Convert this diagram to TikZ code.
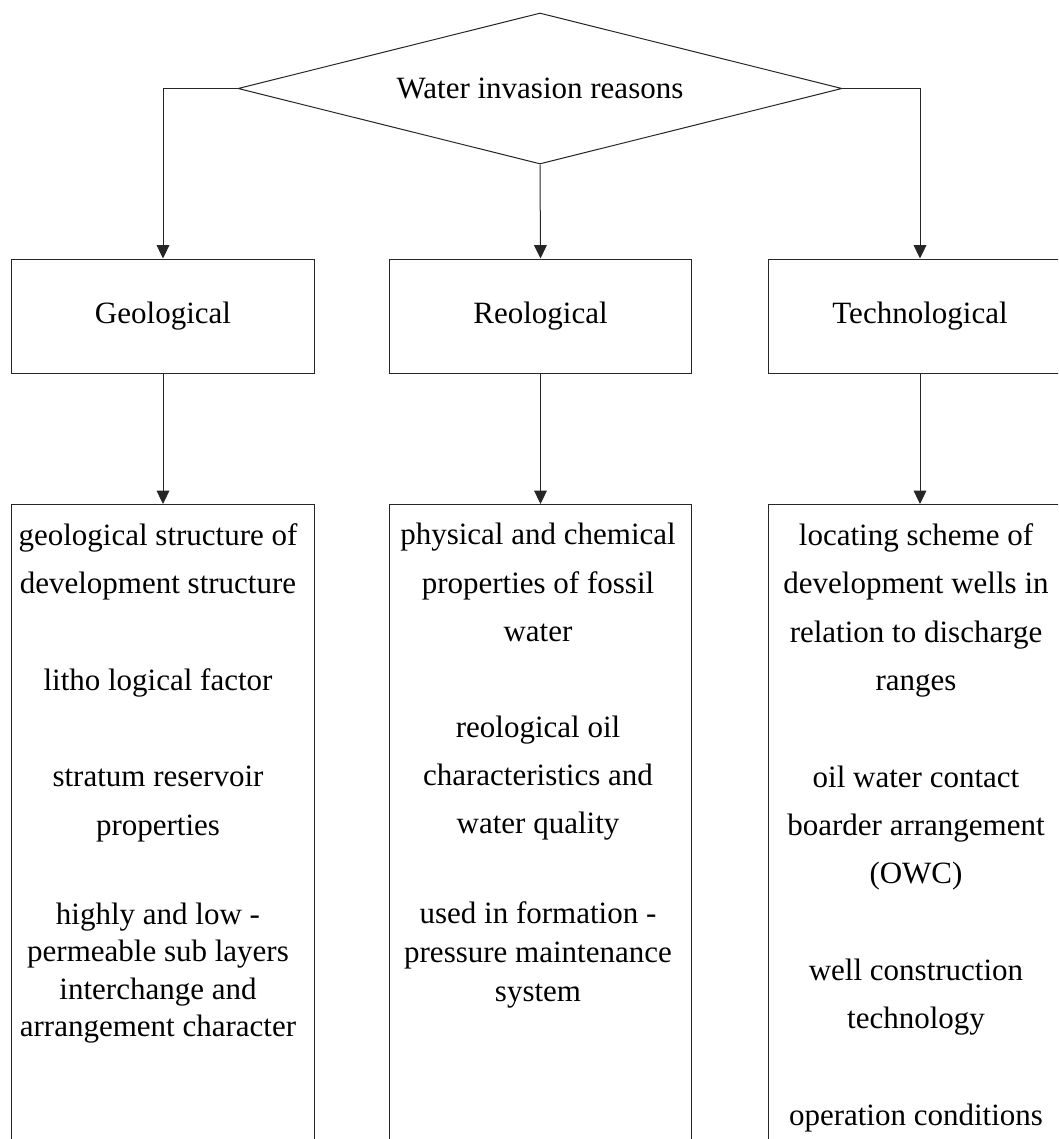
\documentclass[tikz,border=0pt]{standalone}
\usepackage{fontspec}
\setmainfont{Liberation Serif}
\usetikzlibrary{shapes.geometric,arrows.meta,positioning}

\begin{document}
\begin{tikzpicture}[x=0.75pt,y=-0.75pt,line width=0.75pt,
  flow/.style={draw=black!85,-{Triangle[length=10pt,width=9.5pt]}},
  catbox/.style={draw=black!85,rectangle,minimum width=227pt,minimum height=85.5pt,inner sep=0pt,font=\fontsize{23.25pt}{28pt}\selectfont},
  listbox/.style={draw=black!85,rectangle,anchor=north,minimum width=227pt,minimum height=520pt,inner sep=0pt},
  item/.style={anchor=base,inner sep=0pt,font=\fontsize{23.25pt}{28pt}\selectfont}]
\useasboundingbox (0,0) rectangle (1058,1139);
\clip (0,0) rectangle (1058,1139);
% decision at the top
\node[diamond,draw=black!85,shape aspect=4,minimum width=453pt,minimum height=113.25pt,inner sep=0pt,
  font=\fontsize{23.25pt}{28pt}\selectfont] (why) at (540,88.5) {Water invasion reasons};
% the three groups
\node[catbox] (geo) at (163,316) {Geological};
\node[catbox] (reo) at (540.5,316) {Reological};
\node[catbox] (tech) at (920,316) {Technological};
\node[listbox] (geolist) at (163,504) {};
\node[listbox] (reolist) at (540.5,504) {};
\node[listbox] (techlist) at (920,504) {};
\draw[flow] (why.west) -| (geo.north);
\draw[flow] (why.south) -- (reo.north);
\draw[flow] (why.east) -| (tech.north);
\draw[flow] (geo.south) -- (geolist.north);
\draw[flow] (reo.south) -- (reolist.north);
\draw[flow] (tech.south) -- (techlist.north);
% list texts
\foreach \yy/\txt [count=\k] in {545/geological structure of,593/development structure,690/litho logical factor,
  786/stratum reservoir,835/properties,924/highly and low -,961/permeable sub layers,999/interchange and,
  1036/arrangement character}
  \node[item] (geo\k) at (158,\yy) {\txt};
\foreach \yy/\txt [count=\k] in {544/physical and chemical,593/properties of fossil,641/water,
  737/reological oil,785/characteristics and,833/water quality,923/used in formation -,
  962/pressure maintenance,1001/system}
  \node[item] (reo\k) at (538,\yy) {\txt};
\foreach \yy/\txt [count=\k] in {545/locating scheme of,593/development wells in,642/relation to discharge,
  690/ranges,787/oil water contact,835/boarder arrangement,883/(OWC),980/well construction,
  1028/technology,1125/operation conditions}
  \node[item] (tech\k) at (916,\yy) {\txt};
\end{tikzpicture}
\end{document}
